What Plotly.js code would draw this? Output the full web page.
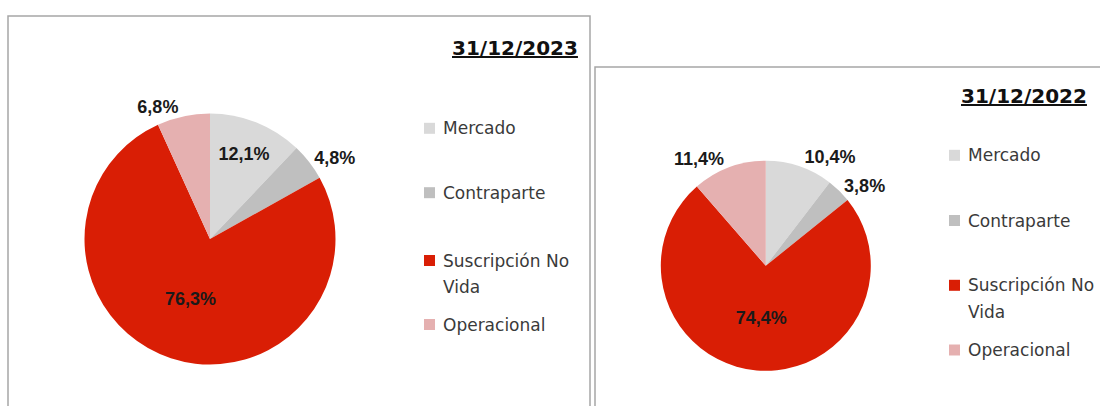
<!DOCTYPE html>
<html><head><meta charset="utf-8">
<script src="https://cdn.plot.ly/plotly-3.0.1.min.js"></script>
<style>html,body{margin:0;padding:0;background:#fff}#chart{width:1100px;height:406px}</style>
</head><body><div id="chart"></div>
<script>
// ---- data ----
const categories = ['Mercado', 'Contraparte', 'Suscripción No Vida', 'Operacional'];
const legendLabels = ['Mercado', 'Contraparte', 'Suscripción No<br>Vida', 'Operacional'];
const values2023 = [12.1, 4.8, 76.3, 6.8];
const values2022 = [10.4, 3.8, 74.4, 11.4];
const titles = ['31/12/2023', '31/12/2022'];

// ---- styles ----
const colors = ['#d9d9d9', '#bfbfbf', '#d91e05', '#e5b0b0'];
const W = 1100, H = 406;
const px = x => x / W;
const py = y => 1 - y / H;

const panels = [
  { values: values2023, title: titles[0],
    textpos: ['inside', 'outside', 'inside', 'outside'],
    cx: 210, cy: 239, r: 125.5,
    box: [8, 16, 590, 430],
    titleX: 580, titleY: 48,
    legX: 424, legY: [128.3, 192.7, 260.5, 324.5] },
  { values: values2022, title: titles[1],
    textpos: ['outside', 'outside', 'inside', 'outside'],
    cx: 765.8, cy: 265.8, r: 105,
    box: [595, 67, 1110, 430],
    titleX: 1089, titleY: 95.5,
    legX: 949, legY: [155.3, 220.5, 285.3, 350] }
];

const labelFont = { family: 'Liberation Sans, Arial, sans-serif', size: 18, color: '#1a1a1a', weight: 'bold' };
const legendFont = { family: 'DejaVu Sans, sans-serif', size: 17, color: '#3a3a3a' };
const titleFont = { family: 'DejaVu Sans, sans-serif', size: 20, color: '#111', weight: 'bold', lineposition: 'under' };

const traces = [];
const shapes = [];
const annotations = [];

panels.forEach(p => {
  traces.push({
    type: 'pie',
    values: p.values,
    labels: categories,
    sort: false,
    direction: 'clockwise',
    rotation: 0,
    marker: { colors: colors, line: { width: 0 } },
    texttemplate: '%{percent:.1%}',
    textposition: p.textpos,
    textfont: labelFont,
    insidetextfont: labelFont,
    outsidetextfont: labelFont,
    insidetextorientation: 'horizontal',
    hoverinfo: 'label+percent',
    showlegend: false,
    domain: { x: [px(p.cx - p.r), px(p.cx + p.r)], y: [py(p.cy + p.r), py(p.cy - p.r)] }
  });

  // panel border
  shapes.push({ type: 'rect', xref: 'paper', yref: 'paper',
    x0: px(p.box[0]), y0: py(p.box[1]), x1: px(p.box[2]), y1: py(p.box[3]),
    line: { color: '#a6a6a6', width: 1.5 }, fillcolor: 'rgba(0,0,0,0)' });

  // title
  annotations.push({ xref: 'paper', yref: 'paper', x: px(p.titleX), y: py(p.titleY),
    xanchor: 'right', yanchor: 'middle', showarrow: false,
    text: p.title, font: titleFont });

  // legend
  legendLabels.forEach((lab, i) => {
    const y = p.legY[i];
    shapes.push({ type: 'rect', xref: 'paper', yref: 'paper',
      x0: px(p.legX), x1: px(p.legX + 11), y0: py(y + 5.5), y1: py(y - 5.5),
      line: { width: 0 }, fillcolor: colors[i] });
    lab.split('<br>').forEach((line, j) => {
      annotations.push({ xref: 'paper', yref: 'paper', x: px(p.legX + 17), y: py(y + j * 26.2),
        xanchor: 'left', yanchor: 'middle', showarrow: false,
        text: line, font: legendFont });
    });
  });
});

const layout = {
  width: W, height: H,
  margin: { l: 0, r: 0, t: 0, b: 0 },
  paper_bgcolor: '#ffffff',
  separators: ',.',
  showlegend: false,
  shapes: shapes,
  annotations: annotations
};

Plotly.newPlot('chart', traces, layout, { displayModeBar: false, staticPlot: true });
</script>
</body></html>
